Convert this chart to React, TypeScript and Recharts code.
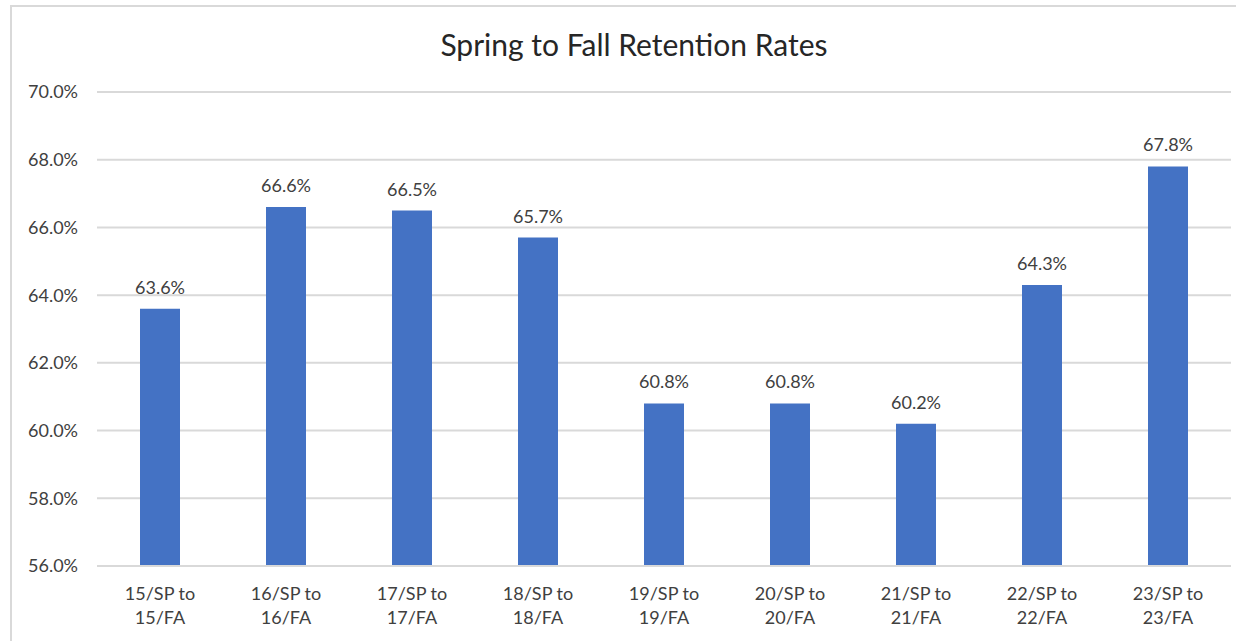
import React from 'react';
import { BarChart, Bar, XAxis, YAxis, CartesianGrid, LabelList } from 'recharts';

const categories = ['15/SP to 15/FA', '16/SP to 16/FA', '17/SP to 17/FA', '18/SP to 18/FA', '19/SP to 19/FA', '20/SP to 20/FA', '21/SP to 21/FA', '22/SP to 22/FA', '23/SP to 23/FA'];
const rates = [63.6, 66.6, 66.5, 65.7, 60.8, 60.8, 60.2, 64.3, 67.8];
const yTicks = [56, 58, 60, 62, 64, 66, 68, 70];
const title = 'Spring to Fall Retention Rates';

const data = categories.map((c, i) => ({ name: c, value: rates[i] }));

const FONT = 'Lato, "Open Sans", sans-serif';

const XTick = (props: any) => {
  const { x, y, payload } = props;
  const parts = String(payload.value).split(' to ');
  return (
    <g transform={`translate(${x},${y})`}>
      <text textAnchor="middle" fill="#404040" fontSize={18} fontFamily={FONT}>
        <tspan x={0} y={26}>{parts[0] + ' to'}</tspan>
        <tspan x={0} y={50}>{parts[1]}</tspan>
      </text>
    </g>
  );
};

export default function App() {
  return (
    <div style={{ position: 'absolute', left: 0, top: 0, width: 1236, height: 641, background: '#fff' }}>
      <div style={{ position: 'absolute', left: 10, top: 5, width: 1240, height: 650, border: '2px solid #d9d9d9', boxSizing: 'border-box' }} />
      <div style={{ position: 'absolute', left: 0, top: 0 }}>
        <BarChart width={1236} height={641} data={data} margin={{ top: 92, right: 5, bottom: 15, left: 0 }} barCategoryGap={43}>
          <text x={634} y={56} textAnchor="middle" fontSize={30} fill="#262626" fontFamily={FONT}>{title}</text>
          <CartesianGrid vertical={false} stroke="#d9d9d9" strokeWidth={2} />
          <XAxis dataKey="name" height={60} tick={<XTick />} tickLine={false} axisLine={{ stroke: '#d9d9d9', strokeWidth: 2 }} interval={0} />
          <YAxis width={97} domain={[56, 70]} ticks={yTicks} tickFormatter={(v: number) => v.toFixed(1) + '%'} tickLine={false} axisLine={false} tickMargin={13} tick={{ fill: '#404040', fontSize: 18, fontFamily: FONT }} interval={0} />
          <Bar dataKey="value" fill="#4472C4" isAnimationActive={false}>
            <LabelList dataKey="value" position="top" offset={15} formatter={(v: any) => Number(v).toFixed(1) + '%'} style={{ fill: '#404040', fontSize: 18, fontFamily: FONT }} />
          </Bar>
        </BarChart>
      </div>
    </div>
  );
}
